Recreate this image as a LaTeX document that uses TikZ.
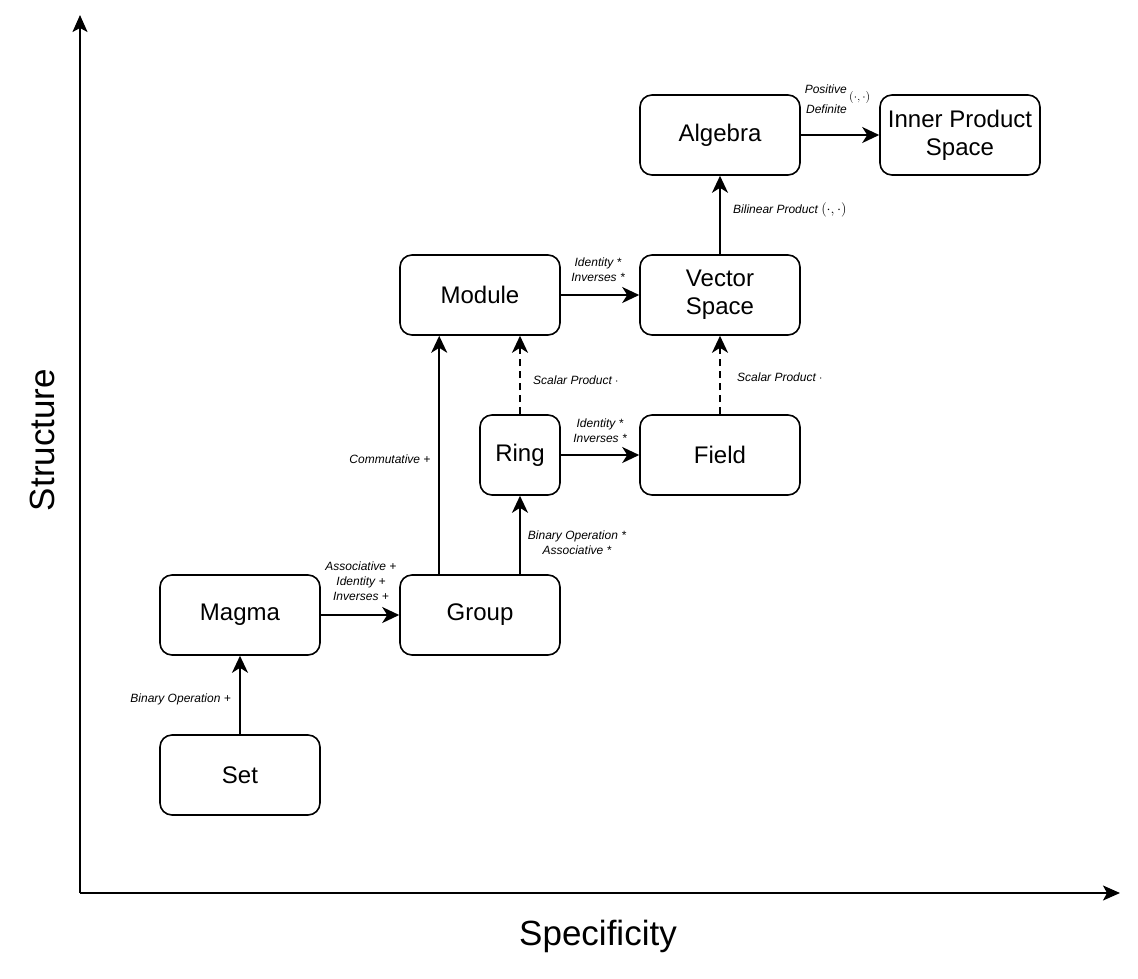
\documentclass[tikz,border=0pt]{standalone}
\usepackage{fontspec}
\setmainfont{Liberation Sans}
\usetikzlibrary{arrows.meta}
\tikzset{
  box/.style={draw=black, line width=1.6pt, rounded corners=12pt, minimum width=160pt, minimum height=80pt, inner sep=0pt, align=center, font=\fontsize{24}{28}\selectfont},
  smallbox/.style={box, minimum width=80pt},
  conn/.style={line width=2pt, -{Stealth[length=17pt,width=16pt,inset=5pt]}},
  dconn/.style={conn, dash pattern=on 7pt off 5pt},
  axis/.style={line width=1.8pt, -{Stealth[length=17pt,width=15pt,inset=4pt]}},
  lbl/.style={font=\fontsize{12}{15}\selectfont\itshape, align=center, inner sep=0pt},
  axlbl/.style={font=\fontsize{35}{40}\selectfont, inner sep=0pt}
}
\begin{document}
\begin{tikzpicture}[x=1pt,y=-1pt]
\useasboundingbox (0,0) rectangle (1138,978);
% axes
\coordinate (origin) at (80,893);
\coordinate (ytop) at (80,15);
\coordinate (xend) at (1120,893);
\draw[axis] (origin) -- (ytop);
\draw[axis] (origin) -- (xend);
\node[axlbl, rotate=90] (structure) at (42,440) {Structure};
\node[axlbl] (specificity) at (598,936) {Specificity};
% boxes
\node[box] (set) at (240,775) {Set};
\node[box] (magma) at (240,615) {Magma};
\node[box] (group) at (480,615) {Group};
\node[smallbox] (ring) at (520,455) {Ring};
\node[box] (field) at (720,455) {Field};
\node[box] (module) at (480,295) {Module};
\node[box] (vector) at (720,295) {Vector\\Space};
\node[box] (algebra) at (720,135) {Algebra};
\node[box] (ips) at (960,135) {Inner Product\\Space};
% connectors
\draw[conn] (set) -- (magma);
\draw[conn] (magma) -- (group);
\draw[conn] (group.north -| module.south west) ++(40,0) coordinate (gm) -- (gm |- module.south);
\draw[conn] (group.north -| ring.south) -- (ring.south);
\draw[dconn] (ring.north) -- (ring.north |- module.south);
\draw[conn] (ring) -- (field);
\draw[dconn] (field) -- (vector);
\draw[conn] (module) -- (vector);
\draw[conn] (vector) -- (algebra);
\draw[conn] (algebra) -- (ips);
% labels
\node[lbl, anchor=east] (l1) at (231,699) {Binary Operation +};
\node[lbl] (l2) at (361,581) {Associative +\\Identity +\\Inverses +};
\node[lbl] (l3) at (390,459) {Commutative +};
\node[lbl] (l4) at (577,543) {Binary Operation *\\Associative *};
\node[lbl, anchor=west] (l5) at (533,380) {Scalar Product $\cdot$};
\node[lbl] (l6) at (600,431) {Identity *\\Inverses *};
\node[lbl, anchor=west] (l7) at (737,377) {Scalar Product $\cdot$};
\node[lbl] (l8) at (598,270) {Identity *\\Inverses *};
\node[lbl, anchor=west] (l9) at (733,210) {Bilinear Product {\fontsize{15}{15}\selectfont$(\cdot,\cdot)$}};
\node[lbl, align=right, anchor=east, font=\fontsize{12}{20}\selectfont\itshape] (l10) at (847,99) {Positive\\Definite};
\node[lbl, anchor=west, font=\fontsize{13}{15}\selectfont] (l11) at (849,97) {$(\cdot,\cdot)$};
\end{tikzpicture}
\end{document}
